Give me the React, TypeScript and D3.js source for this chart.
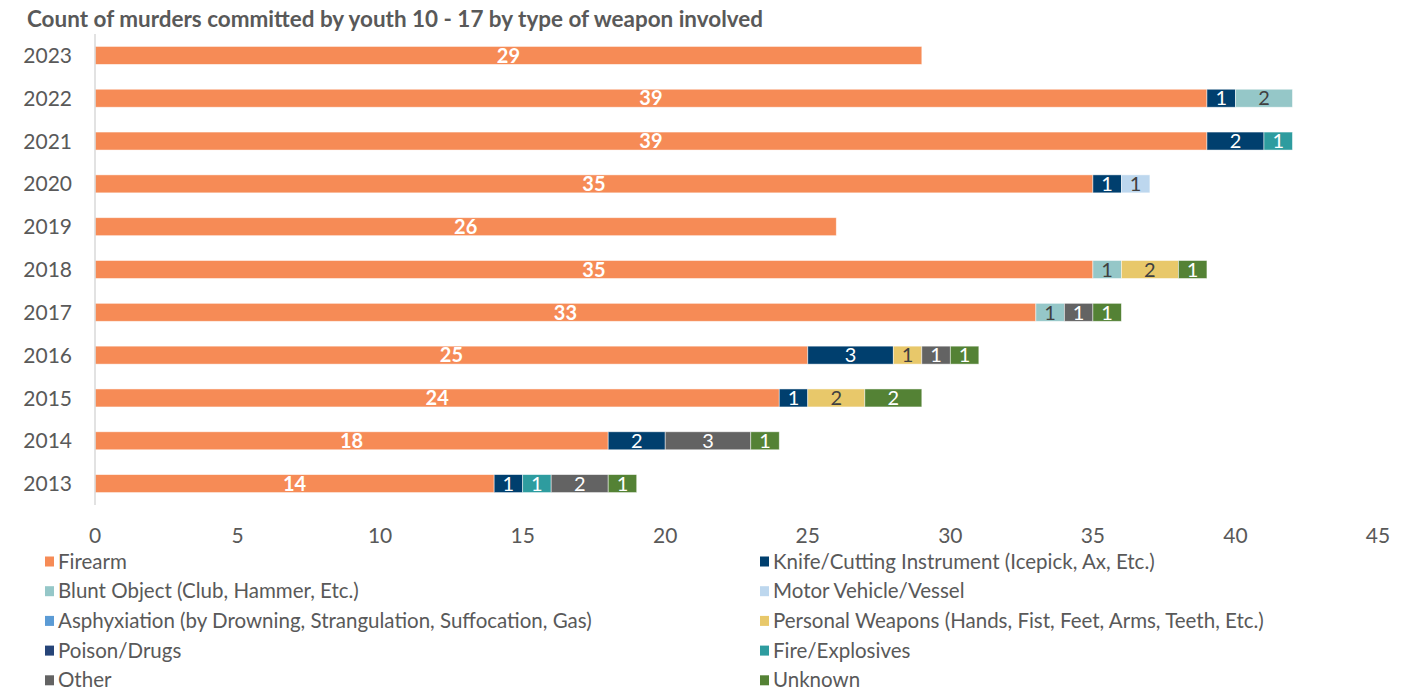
import React from "react";
import * as d3 from "d3";

const years = ["2023", "2022", "2021", "2020", "2019", "2018", "2017", "2016", "2015", "2014", "2013"];
const seriesNames = [
  "Firearm",
  "Knife/Cutting Instrument (Icepick, Ax, Etc.)",
  "Blunt Object (Club, Hammer, Etc.)",
  "Motor Vehicle/Vessel",
  "Asphyxiation (by Drowning, Strangulation, Suffocation, Gas)",
  "Personal Weapons (Hands, Fist, Feet, Arms, Teeth, Etc.)",
  "Poison/Drugs",
  "Fire/Explosives",
  "Other",
  "Unknown",
];
const firearm = [29, 39, 39, 35, 26, 35, 33, 25, 24, 18, 14];
const knife = [0, 1, 2, 1, 0, 0, 0, 3, 1, 2, 1];
const blunt = [0, 2, 0, 0, 0, 1, 1, 0, 0, 0, 0];
const motor = [0, 0, 0, 1, 0, 0, 0, 0, 0, 0, 0];
const asphyxiation = [0, 0, 0, 0, 0, 0, 0, 0, 0, 0, 0];
const personal = [0, 0, 0, 0, 0, 2, 0, 1, 2, 0, 0];
const poison = [0, 0, 0, 0, 0, 0, 0, 0, 0, 0, 0];
const fire = [0, 0, 1, 0, 0, 0, 0, 0, 0, 0, 1];
const other = [0, 0, 0, 0, 0, 0, 1, 1, 0, 3, 2];
const unknown = [0, 0, 0, 0, 0, 1, 1, 1, 2, 1, 1];
const xTicks = [0, 5, 10, 15, 20, 25, 30, 35, 40, 45];

const seriesValues = [firearm, knife, blunt, motor, asphyxiation, personal, poison, fire, other, unknown];
const colors = ["#F68B56", "#003F6E", "#95C7C8", "#BDD7EE", "#5B9BD5", "#E8C86A", "#264478", "#2E9C9F", "#636363", "#548235"];
const labelColors = ["#FFFFFF", "#FFFFFF", "#404040", "#404040", "#FFFFFF", "#404040", "#FFFFFF", "#FFFFFF", "#FFFFFF", "#FFFFFF"];

const FONT = "Lato, 'Open Sans', sans-serif";

export default function App() {
  const width = 1414;
  const height = 691;
  const x = d3.scaleLinear().domain([0, 45]).range([95, 1378]);
  const y = d3.scaleBand().domain(years).range([34, 505]).paddingInner(0.58).paddingOuter(0.29);

  const table = years.map((yr, i) => {
    const row: any = { year: yr };
    seriesNames.forEach((s, k) => (row[s] = seriesValues[k][i]));
    return row;
  });
  const stack = d3.stack<any>().keys(seriesNames);
  const stacked = stack(table);

  return (
    <svg width={width} height={height} style={{ position: "absolute", left: 0, top: 0, fontFamily: FONT }}>
      <rect width={width} height={height} fill="#fff" />
      <text x={27} y={27} fontSize={22} fontWeight="bold" fill="#595959" textLength={736} lengthAdjust="spacingAndGlyphs">
        Count of murders committed by youth 10 - 17 by type of weapon involved
      </text>
      {stacked.map((layer, k) => (
        <g key={k}>
          {layer.map((d, i) => {
            const v = d[1] - d[0];
            if (v <= 0) return null;
            const x0 = x(d[0]);
            const x1 = x(d[1]);
            const yy = y(years[i])!;
            const bh = y.bandwidth();
            return (
              <g key={i}>
                <rect x={x0} y={yy} width={x1 - x0} height={bh} fill={colors[k]} stroke="#ffffff" strokeOpacity={0.6} strokeWidth={0.8} />
                <text
                  x={(x0 + x1) / 2}
                  y={yy + bh / 2}
                  dy="0.36em"
                  textAnchor="middle"
                  fontSize={20}
                  fontWeight={k === 0 ? "bold" : "normal"}
                  fill={labelColors[k]}
                >
                  {v}
                </text>
              </g>
            );
          })}
        </g>
      ))}
      <line x1={x(0)} x2={x(0)} y1={34} y2={505} stroke="#D9D9D9" strokeWidth={1.5} />
      {years.map((yr) => (
        <text key={yr} x={72} y={y(yr)! + y.bandwidth() / 2} dy="0.36em" textAnchor="end" fontSize={21} fill="#595959">
          {yr}
        </text>
      ))}
      {xTicks.map((t) => (
        <text key={t} x={x(t)} y={535} dy="0.36em" textAnchor="middle" fontSize={21} fill="#595959">
          {t}
        </text>
      ))}
      {seriesNames.map((s, k) => {
        const col = k % 2;
        const row = Math.floor(k / 2);
        const lx = col === 0 ? 45 : 760;
        const ly = 561.5 + row * 29.7;
        return (
          <g key={s}>
            <rect x={lx} y={ly - 5} width={9} height={10} fill={colors[k]} />
            <text x={lx + 13} y={ly} dy="0.35em" fontSize={20.5} fill="#595959">
              {s}
            </text>
          </g>
        );
      })}
    </svg>
  );
}
